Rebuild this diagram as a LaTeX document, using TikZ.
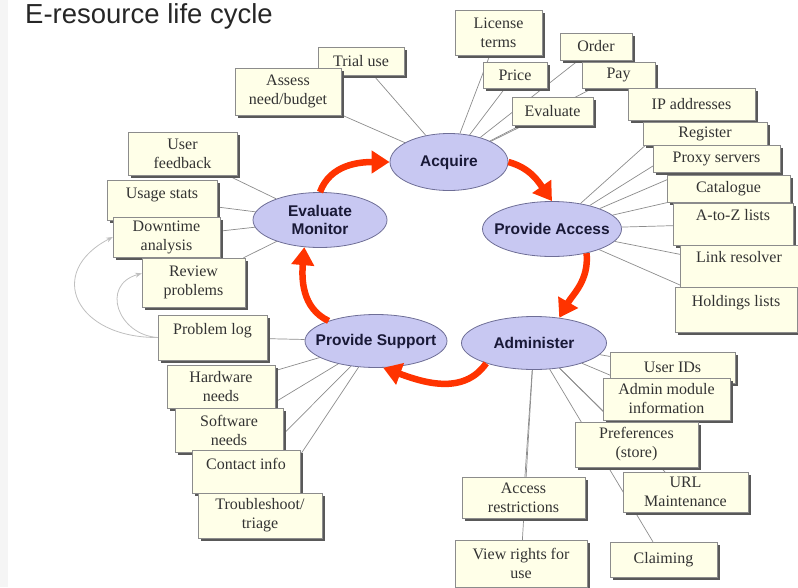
\documentclass[tikz,border=0pt]{standalone}
\usepackage{fontspec}
\setmainfont{Liberation Serif}
\setsansfont{Liberation Sans}
\usetikzlibrary{shapes.geometric, arrows.meta, shadows, backgrounds}

\definecolor{stagefill}{RGB}{200,200,242}
\definecolor{stageline}{RGB}{110,110,150}
\definecolor{stagetext}{RGB}{25,25,55}
\definecolor{taskfill}{RGB}{255,255,232}
\definecolor{flowred}{RGB}{255,51,0}

\begin{document}
\begin{tikzpicture}[x=1pt, y=1pt, >=Stealth]
        % Styles
        \tikzstyle{stage} = [ellipse, draw=stageline, fill=stagefill, line width=0.8pt, inner sep=0pt]
        \tikzstyle{stagelbl} = [align=center, inner sep=0pt, font=\sffamily\bfseries\fontsize{15.5}{18}\selectfont, text=stagetext]
        \tikzstyle{task} = [draw=black!45, fill=taskfill, rectangle, align=center, inner sep=1pt, font=\fontsize{16}{19}\selectfont, text=black!80, drop shadow={shadow xshift=2.5pt, shadow yshift=-2.5pt, fill=black!65, opacity=1}]
        \tikzstyle{spoke} = [draw=black!45, line width=0.7pt]
        \tikzstyle{flow} = [draw=flowred, line width=6.5pt, -{Triangle[length=18pt, width=22pt]}]
        \tikzstyle{loopback} = [draw=black!25, line width=0.8pt, ->]
        \tikzset{boxsize/.style 2 args={minimum width=#1pt, minimum height=#2pt}, lift/.style={text depth=#1pt}}

        \useasboundingbox (0,0) rectangle (798,-587);
        \fill[black!4] (0,0) rectangle (8,-587);
        \node[anchor=base west, inner sep=0pt, font=\sffamily\fontsize{27.5}{31}\selectfont, text=black!85] (title) at (25,-23) {E-resource life cycle};

        % Stages
        \node[stage, minimum width=118pt, minimum height=57pt, label={[stagelbl]center:Acquire}] (acq) at (449,-162) {};
        \node[stage, minimum width=139pt, minimum height=55pt, label={[stagelbl]center:Provide Access}] (pacc) at (552,-229) {};
        \node[stage, minimum width=145pt, minimum height=53pt, label={[stagelbl]center:Administer}] (adm) at (534,-343) {};
        \node[stage, minimum width=142pt, minimum height=53pt, label={[stagelbl]center:Provide Support}] (psup) at (376,-341) {};
        \node[stage, minimum width=134pt, minimum height=55pt, label={[stagelbl]center:Evaluate\\Monitor}] (evmon) at (320,-220) {};

        % Acquire tasks
        \node[task, boxsize={87}{45}] (license) at (498.5,-32.5) {License\\terms};
        \node[task, boxsize={72}{27}] (order) at (596,-46.5) {Order};
        \node[task, boxsize={86}{28}] (trial) at (361,-61) {Trial use};
        \node[task, boxsize={106}{47}] (assess) at (288,-91.5) {Assess\\need/budget};
        \node[task, boxsize={64}{26}] (price) at (515,-75) {Price};
        \node[task, boxsize={73}{26}] (pay) at (618.5,-75) {Pay};
        \node[task, boxsize={81}{28}] (evalbox) at (552.5,-111) {Evaluate};

        % Access tasks
        \node[task, boxsize={127}{32}] (ipaddr) at (691.5,-104) {IP addresses};
        \node[task, boxsize={124}{23}] (register) at (705,-133.5) {Register};
        \node[task, boxsize={127}{27}] (proxy) at (716.5,-158.5) {Proxy servers};
        \node[task, boxsize={123}{27}] (catalogue) at (728.5,-188.5) {Catalogue};
        \node[task, boxsize={120}{42}, lift=18] (atoz) at (733,-224) {A-to-Z lists};
        \node[task, boxsize={118}{42}, lift=19] (linkres) at (739,-266) {Link resolver};
        \node[task, boxsize={122}{45}, lift=18] (holdings) at (736,-309.5) {Holdings lists};

        % Evaluate tasks
        \node[task, boxsize={109}{43}] (userfb) at (182.5,-153.5) {User\\feedback};
        \node[task, boxsize={110}{40}, lift=14] (usage) at (162,-200) {Usage stats};
        \node[task, boxsize={107}{40}] (downtime) at (166.5,-237) {Downtime\\analysis};
        \node[task, boxsize={103}{49}] (review) at (193.5,-282.5) {Review\\problems};

        % Support tasks
        \node[task, boxsize={109}{45}, lift=18] (problog) at (212.5,-337.5) {Problem log};
        \node[task, boxsize={108}{43}] (hardware) at (221,-386.5) {Hardware\\needs};
        \node[task, boxsize={108}{44}] (software) at (229,-430) {Software\\needs};
        \node[task, boxsize={108}{43}, lift=16] (contact) at (246,-471.5) {Contact info};
        \node[task, boxsize={124}{45}] (trouble) at (260,-515.5) {Troubleshoot/\\triage};

        % Administer tasks
        \node[task, boxsize={125}{31}] (userids) at (672.5,-367.5) {User IDs};
        \node[task, boxsize={127}{42}] (admin) at (666.5,-399) {Admin module\\information};
        \node[task, boxsize={123}{45}] (prefs) at (636.5,-444.5) {Preferences\\(store)};
        \node[task, boxsize={125}{40}] (url) at (685.5,-492) {URL\\Maintenance};
        \node[task, boxsize={123}{41}] (access) at (523.5,-497.5) {Access\\restrictions};
        \node[task, boxsize={107}{35}] (claiming) at (663.5,-559.5) {Claiming};
        \node[task, boxsize={132}{47}] (viewrights) at (521,-563.5) {View rights for\\use};

        % Spokes
        \begin{scope}[on background layer]
        \draw[spoke] (acq) -- (trial); \draw[spoke] (acq) -- (assess); \draw[spoke] (acq) -- (license);
        \draw[spoke] (acq) -- (price); \draw[spoke] (acq) -- (evalbox); \draw[spoke] (acq) -- (order);
        \draw[spoke] (acq) -- (pay);
        \draw[spoke] (pacc) -- (ipaddr); \draw[spoke] (pacc) -- (register); \draw[spoke] (pacc) -- (proxy);
        \draw[spoke] (pacc) -- (catalogue); \draw[spoke] (pacc) -- (atoz); \draw[spoke] (pacc) -- (linkres);
        \draw[spoke] (pacc) -- (holdings);
        \draw[spoke] (adm) -- (userids); \draw[spoke] (adm) -- (admin); \draw[spoke] (adm) -- (prefs);
        \draw[spoke] (adm) -- (url); \draw[spoke] (adm) -- (access); \draw[spoke] (adm) -- (claiming);
        \draw[spoke] (adm) -- (viewrights);
        \draw[spoke] (psup) -- (problog); \draw[spoke] (psup) -- (hardware); \draw[spoke] (psup) -- (software);
        \draw[spoke] (psup) -- (contact); \draw[spoke] (psup) -- (trouble);
        \draw[spoke] (evmon) -- (userfb); \draw[spoke] (evmon) -- (usage); \draw[spoke] (evmon) -- (downtime);
        \draw[spoke] (evmon) -- (review);
        \end{scope}

        % Cycle
        \draw[flow] (evmon.north) to[out=70, in=180] (acq.west);
        \draw[flow] (acq.east) to[out=-15, in=125] (pacc.north);
        \draw[flow] (pacc.-35) to[out=-85, in=60] (adm.45);
        \draw[flow] (adm.203) to[out=-125, in=-20] (psup.-75);
        \draw[flow] (psup.157) to[out=155, in=-95] (evmon.240);

        % Feedback
        \draw[loopback] (problog.west) .. controls (75,-338) and (45,-272) .. (downtime.west);
        \draw[loopback] (problog.west) .. controls (118,-335) and (100,-285) .. (review.170);
    \end{tikzpicture}
\end{document}
